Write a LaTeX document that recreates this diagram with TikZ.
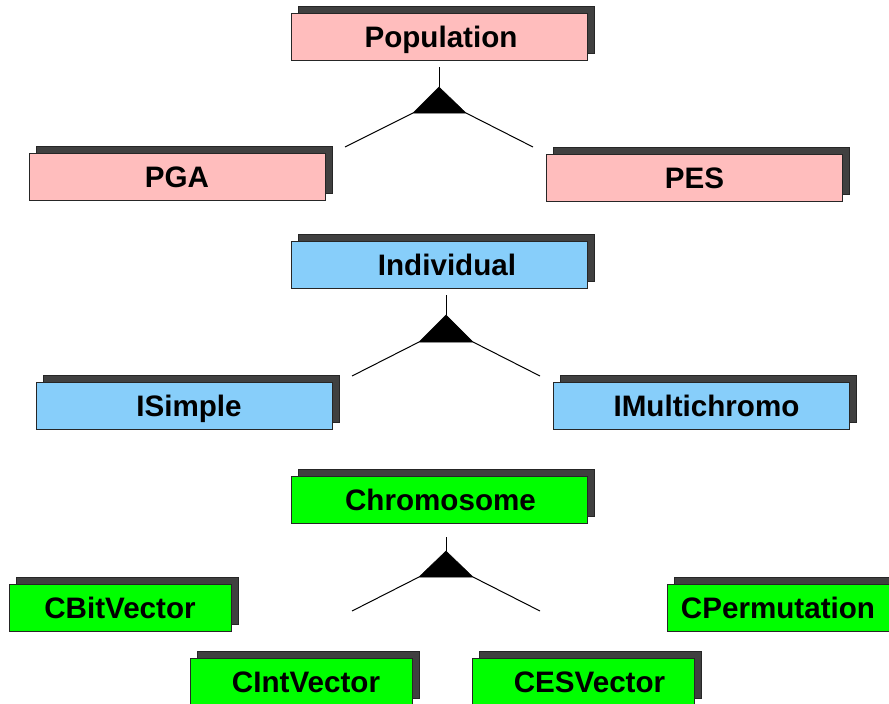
\documentclass[tikz,border=0pt]{standalone}
\usepackage{fontspec}
\setmainfont{Liberation Sans}
\usetikzlibrary{shadows}
\definecolor{pinkfill}{RGB}{255,189,189}
\definecolor{bluefill}{RGB}{135,206,250}
\definecolor{greenfill}{RGB}{0,255,0}
\definecolor{shadowgray}{RGB}{64,64,64}
\newcommand{\tsh}[1]{\hspace*{#1pt}}
\begin{document}
\begin{tikzpicture}[x=1pt,y=-1pt,
  cls/.style={rectangle, draw=black!85, line width=0.8pt, inner sep=0pt, outer sep=0pt,
    minimum height=47pt, font=\fontsize{29.6}{30}\selectfont\bfseries,
    text height=21pt, text depth=0pt,
    drop shadow={shadow xshift=7pt, shadow yshift=7pt, fill=shadowgray, draw=black!85, opacity=1}},
  wide/.style={cls, minimum width=296pt},
  narrow/.style={cls, minimum width=222pt},
  link/.style={line width=1pt},
  tri/.style={fill=black, draw=black, line width=0.5pt}]
\useasboundingbox (0,0) rectangle (889,704);

% Population hierarchy
\node[wide, fill=pinkfill] (pop) at (439,36.5) {\tsh{4}Population};
\node[wide, fill=pinkfill] (pga) at (177,177) {PGA};
\node[wide, fill=pinkfill] (pes) at (694.5,177.5) {PES};
\coordinate (popstem) at (439,67);
\coordinate (popapex) at (439,87);
\coordinate (popbl) at (413,113);
\coordinate (popbr) at (466,113);
\coordinate (pgaend) at (345,147);
\coordinate (pesend) at (533,147);
\draw[link] (popstem) -- (popapex);
\filldraw[tri] (popapex) -- (popbl) -- (popbr) -- cycle;
\draw[link] (popbl) -- (pgaend);
\draw[link] (popbr) -- (pesend);

% Individual hierarchy
\node[wide, fill=bluefill] (ind) at (439,264.5) {\tsh{16}Individual};
\node[wide, fill=bluefill] (isim) at (184,405.5) {\tsh{10}ISimple};
\node[wide, fill=bluefill] (imul) at (701,405.5) {\tsh{11}IMultichromo};
\coordinate (indstem) at (446,295);
\coordinate (indapex) at (446,315);
\coordinate (indbl) at (419,342);
\coordinate (indbr) at (473,342);
\coordinate (isimend) at (352,376);
\coordinate (imulend) at (540,376);
\draw[link] (indstem) -- (indapex);
\filldraw[tri] (indapex) -- (indbl) -- (indbr) -- cycle;
\draw[link] (indbl) -- (isimend);
\draw[link] (indbr) -- (imulend);

% Chromosome hierarchy
\node[wide, fill=greenfill] (chr) at (439,499.5) {\tsh{3}Chromosome};
\node[narrow, fill=greenfill] (cbit) at (120,607.5) {CBitVector};
\node[narrow, fill=greenfill] (cperm) at (778,607.5) {CPermutation};
\node[narrow, fill=greenfill] (cint) at (301,681.5) {\tsh{10}CIntVector};
\node[narrow, fill=greenfill] (ces) at (583.5,681.5) {\tsh{12}CESVector};
\coordinate (chrstem) at (446,537);
\coordinate (chrapex) at (446,551);
\coordinate (chrbl) at (419,577);
\coordinate (chrbr) at (473,577);
\coordinate (chrlend) at (352,611);
\coordinate (chrrend) at (540,611);
\draw[link] (chrstem) -- (chrapex);
\filldraw[tri] (chrapex) -- (chrbl) -- (chrbr) -- cycle;
\draw[link] (chrbl) -- (chrlend);
\draw[link] (chrbr) -- (chrrend);
\end{tikzpicture}
\end{document}
